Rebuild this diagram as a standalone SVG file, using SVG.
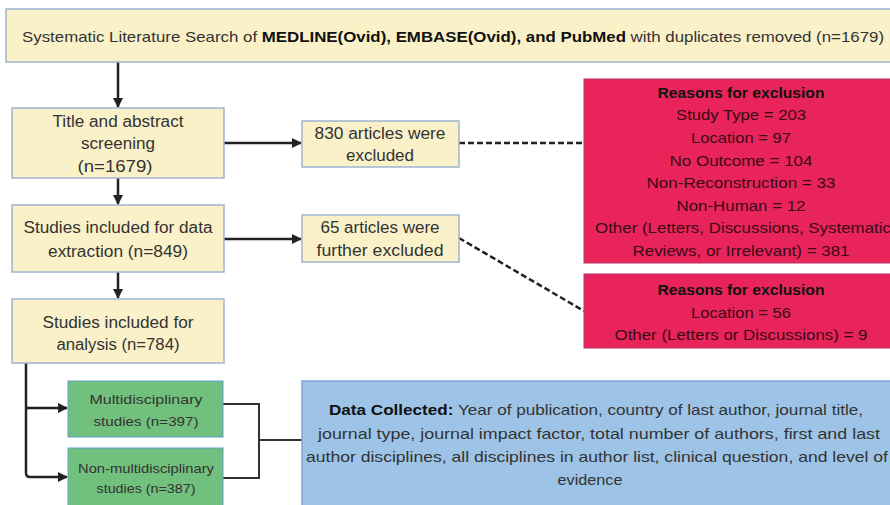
<svg xmlns="http://www.w3.org/2000/svg" width="890" height="505" viewBox="0 0 890 505">
<style>
.y{fill:#FAF1C9;stroke:#9FB4D0;stroke-width:1.5}
.r{fill:#E8245A;stroke:#B8306A;stroke-width:1}
.g{fill:#71C07D;stroke:#5F9FC9;stroke-width:1}
.b{fill:#9DC3E6;stroke:#7FA6D2;stroke-width:1.5}
text{font-family:"Liberation Sans",Arial,sans-serif;text-anchor:middle;fill:#333}
.t16{font-size:16px}
.t15{font-size:15px}
.t14{font-size:13.5px}
.rt{font-size:15px;fill:#3A0A16}
.bold{font-weight:bold;fill:#111}
.c{fill:none;stroke:#222;stroke-width:2.5}
.d{fill:none;stroke:#222;stroke-width:2.5;stroke-dasharray:6 3}
.k{fill:none;stroke:#333;stroke-width:2}
</style>
<defs>
<marker id="ah" viewBox="0 0 10 10" refX="9" refY="5" markerWidth="4" markerHeight="4" orient="auto" markerUnits="strokeWidth">
<path d="M0,0 L10,5 L0,10 z" fill="#222"/>
</marker>
</defs>
<g id="connectors">
<line class="c" x1="118" y1="62" x2="118" y2="107" marker-end="url(#ah)"/>
<line class="c" x1="118" y1="178" x2="118" y2="204" marker-end="url(#ah)"/>
<line class="c" x1="118" y1="272" x2="118" y2="298" marker-end="url(#ah)"/>
<line class="c" x1="224" y1="143" x2="301" y2="143" marker-end="url(#ah)"/>
<line class="c" x1="224" y1="239" x2="301" y2="239" marker-end="url(#ah)"/>
<line class="d" x1="459" y1="143" x2="584" y2="143"/>
<line class="d" x1="459" y1="238" x2="584" y2="311"/>
<path class="c" d="M26,363 L26,473 Q26,477 30,477 L67,477" marker-end="url(#ah)"/>
<line class="c" x1="26" y1="408" x2="67" y2="408" marker-end="url(#ah)"/>
<path class="k" d="M223,404 L259,404 L259,478 L223,478 M259,440 L302,440"/>
</g>
<g id="search">
<rect class="y" x="6" y="9" width="900" height="53"/>
<text class="t15" x="453" y="42" textLength="862" lengthAdjust="spacingAndGlyphs">Systematic Literature Search of <tspan class="bold">MEDLINE(Ovid), EMBASE(Ovid), and PubMed</tspan> with duplicates removed (n=1679)</text>
</g>
<g id="screening">
<rect class="y" x="12" y="108" width="212" height="70"/>
<text class="t16" x="118" y="127" textLength="131" lengthAdjust="spacingAndGlyphs">Title and abstract</text>
<text class="t16" x="118" y="149" textLength="74" lengthAdjust="spacingAndGlyphs">screening</text>
<text class="t16" x="115" y="172" textLength="75" lengthAdjust="spacingAndGlyphs">(n=1679)</text>
</g>
<g id="excluded830">
<rect class="y" x="302" y="121" width="157" height="46"/>
<text class="t16" x="380" y="139" textLength="131" lengthAdjust="spacingAndGlyphs">830 articles were</text>
<text class="t16" x="380" y="161" textLength="68" lengthAdjust="spacingAndGlyphs">excluded</text>
</g>
<g id="extraction">
<rect class="y" x="12" y="205" width="212" height="67"/>
<text class="t16" x="118" y="233" textLength="189" lengthAdjust="spacingAndGlyphs">Studies included for data</text>
<text class="t16" x="118" y="257" textLength="140" lengthAdjust="spacingAndGlyphs">extraction (n=849)</text>
</g>
<g id="excluded65">
<rect class="y" x="302" y="215" width="157" height="47"/>
<text class="t16" x="380" y="233" textLength="119" lengthAdjust="spacingAndGlyphs">65 articles were</text>
<text class="t16" x="380" y="256" textLength="127" lengthAdjust="spacingAndGlyphs">further excluded</text>
</g>
<g id="reasons1">
<rect class="r" x="584" y="79" width="320" height="184"/>
<text class="rt bold" x="741" y="98" textLength="167" lengthAdjust="spacingAndGlyphs">Reasons for exclusion</text>
<text class="rt" x="741" y="120" textLength="130" lengthAdjust="spacingAndGlyphs">Study Type = 203</text>
<text class="rt" x="741" y="143" textLength="100" lengthAdjust="spacingAndGlyphs">Location = 97</text>
<text class="rt" x="741" y="166" textLength="143" lengthAdjust="spacingAndGlyphs">No Outcome = 104</text>
<text class="rt" x="741" y="188" textLength="189" lengthAdjust="spacingAndGlyphs">Non-Reconstruction = 33</text>
<text class="rt" x="741" y="211" textLength="129" lengthAdjust="spacingAndGlyphs">Non-Human = 12</text>
<text class="rt" x="743" y="233" textLength="296" lengthAdjust="spacingAndGlyphs">Other (Letters, Discussions, Systematic</text>
<text class="rt" x="741" y="256" textLength="217" lengthAdjust="spacingAndGlyphs">Reviews, or Irrelevant) = 381</text>
</g>
<g id="reasons2">
<rect class="r" x="584" y="274" width="320" height="74"/>
<text class="rt bold" x="741" y="295" textLength="167" lengthAdjust="spacingAndGlyphs">Reasons for exclusion</text>
<text class="rt" x="741" y="318" textLength="100" lengthAdjust="spacingAndGlyphs">Location = 56</text>
<text class="rt" x="741" y="340" textLength="253" lengthAdjust="spacingAndGlyphs">Other (Letters or Discussions) = 9</text>
</g>
<g id="analysis">
<rect class="y" x="12" y="299" width="212" height="64"/>
<text class="t16" x="118" y="328" textLength="151" lengthAdjust="spacingAndGlyphs">Studies included for</text>
<text class="t16" x="118" y="350" textLength="123" lengthAdjust="spacingAndGlyphs">analysis (n=784)</text>
</g>
<g id="multi">
<rect class="g" x="68" y="381" width="155" height="56"/>
<text class="t14" x="146" y="404" textLength="113" lengthAdjust="spacingAndGlyphs">Multidisciplinary</text>
<text class="t14" x="146" y="426" textLength="105" lengthAdjust="spacingAndGlyphs">studies (n=397)</text>
</g>
<g id="nonmulti">
<rect class="g" x="68" y="448" width="155" height="70"/>
<text class="t14" x="146" y="473" textLength="136" lengthAdjust="spacingAndGlyphs">Non-multidisciplinary</text>
<text class="t14" x="146" y="493" textLength="99" lengthAdjust="spacingAndGlyphs">studies (n=387)</text>
</g>
<g id="data">
<rect class="b" x="302" y="381" width="600" height="140"/>
<text class="t15" x="596" y="415" textLength="534" lengthAdjust="spacingAndGlyphs"><tspan class="bold">Data Collected:</tspan> Year of publication, country of last author, journal title,</text>
<text class="t15" x="599" y="439" textLength="562" lengthAdjust="spacingAndGlyphs">journal type, journal impact factor, total number of authors, first and last</text>
<text class="t15" x="597" y="462" textLength="582" lengthAdjust="spacingAndGlyphs">author disciplines, all disciplines in author list, clinical question, and level of</text>
<text class="t15" x="590" y="485" textLength="65" lengthAdjust="spacingAndGlyphs">evidence</text>
</g>
</svg>
